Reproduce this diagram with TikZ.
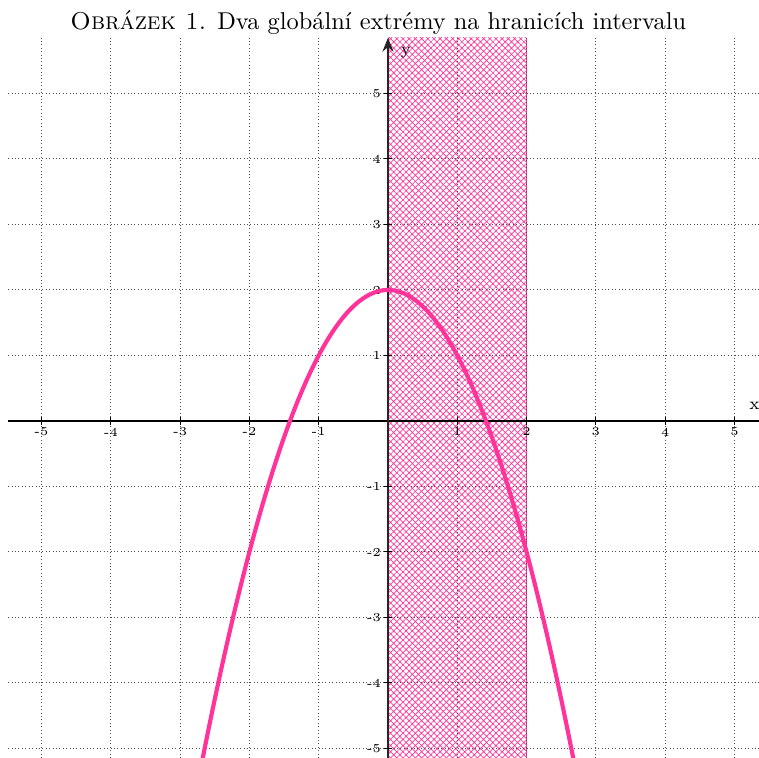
\documentclass[tikz,border=0pt]{standalone}
\usetikzlibrary{arrows.meta,patterns.meta}
\definecolor{grafpink}{RGB}{255,51,153}

\begin{document}
\begin{tikzpicture}[x=1cm,y=0.9452cm,
  >={Stealth[length=2mm,width=1.6mm]},
  gridline/.style={densely dotted, line width=0.4pt, black!70},
  xaxis/.style={line width=1.1pt, black},
  yaxis/.style={->, line width=0.7pt, black!85},
  tickmark/.style={line width=0.4pt, black},
  ticklab/.style={font=\tiny, inner sep=1pt},
  axislab/.style={font=\scriptsize, inner sep=0pt},
  hatch/.style={pattern={Hatch[angle=45,distance=1.8pt,line width=0.28pt]},
                pattern color=grafpink},
  graph/.style={line width=1.7pt, grafpink}
]
\useasboundingbox (-5.599,-5.145) rectangle (5.354,6.427);

% ---------- Title ----------
\node (title) at (-0.14,6.09) {\textsc{Obrázek 1.} Dva globální extrémy na hranicích intervalu};

% ---------- Interval [0,2] ----------
\fill[hatch] (0,-5.145) rectangle (2,5.85);
\draw[grafpink, line width=0.5pt] (2,-5.145) -- (2,5.85);

% ---------- Grid ----------
\foreach \i in {-5,...,5}
  \draw[gridline] (\i,-5.145) -- (\i,5.85);
\foreach \j in {-5,...,5}
  \draw[gridline] (-5.48,\j) -- (5.354,\j);

% ---------- Axes ----------
\coordinate (xstart) at (-5.48,0);
\coordinate (xend) at (5.354,0);
\coordinate (ystart) at (0,-5.145);
\coordinate (yend) at (0,5.85);
\draw[xaxis] (xstart) -- (xend);
\draw[yaxis] (ystart) -- (yend);
\node[axislab] (xlab) at (5.29,0.23) {x};
\node[axislab] (ylab) at (0.26,5.62) {y};

% ---------- Ticks ----------
\foreach \i in {-5,-4,-3,-2,-1,1,2,3,4,5} {
  \draw[tickmark] (\i,-0.06) -- (\i,0.06);
  \node[ticklab, below] (xt\i) at (\i,-0.06) {\i};
}
\foreach \j in {-5,-4,-3,-2,-1,1,2,3,4,5} {
  \draw[tickmark] (-0.06,\j) -- (0.06,\j);
  \node[ticklab, left] (yt\j) at (-0.06,\j) {\j};
}

% ---------- Function ----------
\draw[graph, domain=-2.68:2.68, samples=120, smooth] plot (\x,{2-\x*\x});

\end{tikzpicture}
\end{document}
